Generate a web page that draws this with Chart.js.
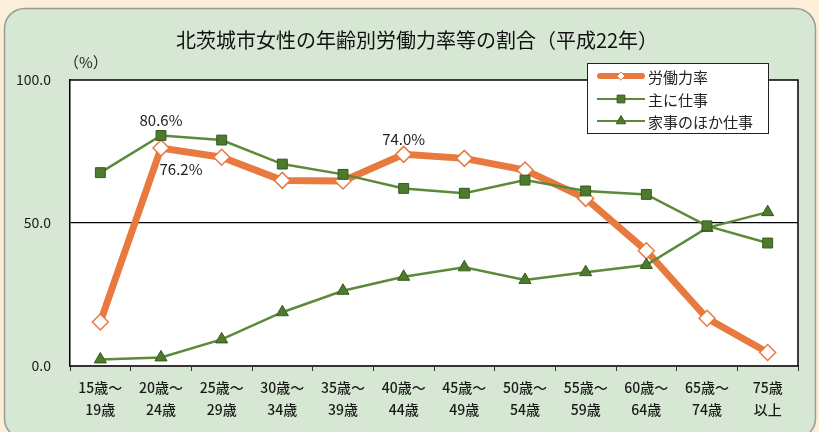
<!DOCTYPE html>
<html>
<head>
<meta charset="utf-8">
<script src="https://cdn.jsdelivr.net/npm/chart.js@4.4.1/dist/chart.umd.min.js"></script>
<style>
  html, body { margin: 0; padding: 0; background: #fcefd9; }
  #wrap { width: 819px; height: 432px; }
</style>
</head>
<body>
<div id="wrap"><canvas id="laborChart" width="819" height="432"></canvas></div>
<script>
const categories = [
    ['15歳～', '19歳'], ['20歳～', '24歳'], ['25歳～', '29歳'], ['30歳～', '34歳'],
    ['35歳～', '39歳'], ['40歳～', '44歳'], ['45歳～', '49歳'], ['50歳～', '54歳'],
    ['55歳～', '59歳'], ['60歳～', '64歳'], ['65歳～', '74歳'], ['75歳', '以上']
];
const laborRate = [15.4, 76.2, 73.0, 64.9, 64.7, 74.0, 72.6, 68.5, 58.6, 40.3, 16.7, 4.7];
const mainWork = [67.6, 80.6, 79.0, 70.6, 67.0, 62.1, 60.4, 65.0, 61.2, 60.0, 49.0, 43.0];
const houseworkWork = [2.3, 3.0, 9.3, 18.8, 26.3, 31.2, 34.5, 30.1, 32.8, 35.3, 48.3, 53.8];
const yTicks = [0, 50, 100];
const seriesNames = ['労働力率', '主に仕事', '家事のほか仕事'];
const titleText = '北茨城市女性の年齢別労働力率等の割合（平成22年）';

const ORANGE = '#e8793f';
const GREEN_LINE = '#5a8a3a';
const GREEN_FILL = '#4e7a2e';
const GREEN_EDGE = '#365a1f';
const FONT = '"Noto Sans CJK JP", "Noto Sans", sans-serif';

// 背景パネル（角丸の緑）とプロットエリアの白
const panelPlugin = {
    id: 'panel',
    beforeDraw(chart) {
        const ctx = chart.ctx;
        const a = chart.chartArea;
        ctx.save();
        ctx.fillStyle = '#fcefd9';
        ctx.fillRect(0, 0, chart.width, chart.height);
        ctx.beginPath();
        ctx.roundRect(4.5, 8.5, 811, 430, 20);
        ctx.fillStyle = '#d6e8d3';
        ctx.fill();
        ctx.strokeStyle = '#9a9a9a';
        ctx.lineWidth = 1.5;
        ctx.stroke();
        ctx.fillStyle = '#ffffff';
        ctx.fillRect(a.left, a.top, a.right - a.left, a.bottom - a.top);

        // タイトル
        ctx.fillStyle = '#111';
        ctx.font = '20px ' + FONT;
        ctx.textAlign = 'center';
        ctx.textBaseline = 'middle';
        ctx.fillText(titleText, 417, 40);
        ctx.restore();
    },
    afterDatasetsDraw(chart) {
        const ctx = chart.ctx;
        const a = chart.chartArea;
        ctx.save();
        // 枠線
        ctx.strokeStyle = '#000';
        ctx.lineWidth = 1.5;
        ctx.beginPath();
        ctx.moveTo(a.left, a.top);
        ctx.lineTo(a.right, a.top);
        ctx.lineTo(a.right, a.bottom);
        ctx.stroke();

        // データラベル
        const xs = chart.scales.x;
        const ys = chart.scales.y;
        ctx.font = '15px ' + FONT;
        ctx.fillStyle = '#222';
        ctx.textAlign = 'center';
        ctx.textBaseline = 'middle';
        ctx.fillText(mainWork[1].toFixed(1) + '%', xs.getPixelForValue(1), ys.getPixelForValue(mainWork[1]) - 15);
        ctx.fillText(laborRate[1].toFixed(1) + '%', xs.getPixelForValue(1) + 20, ys.getPixelForValue(laborRate[1]) + 21);
        ctx.fillText(laborRate[5].toFixed(1) + '%', xs.getPixelForValue(5), ys.getPixelForValue(laborRate[5]) - 15);

        // 単位
        ctx.textAlign = 'left';
        ctx.fillText('（%）', 64, 62);

        // 凡例
        const lx = 587, ly = 63, lw = 181, lh = 70;
        ctx.fillStyle = '#fff';
        ctx.fillRect(lx, ly, lw, lh);
        ctx.strokeStyle = '#222';
        ctx.lineWidth = 1;
        ctx.strokeRect(lx + 0.5, ly + 0.5, lw, lh);
        const rows = [76, 99, 121];
        chart.data.datasets.forEach((ds, i) => {
            const y = rows[i];
            ctx.strokeStyle = ds.borderColor;
            ctx.lineWidth = i === 0 ? 6 : 2;
            ctx.lineCap = i === 0 ? 'round' : 'butt';
            ctx.beginPath();
            ctx.moveTo(i === 0 ? 600 : 597, y);
            ctx.lineTo(i === 0 ? 642 : 645, y);
            ctx.stroke();
            ctx.fillStyle = ds.pointBackgroundColor;
            ctx.strokeStyle = ds.pointBorderColor;
            ctx.lineWidth = 1;
            Chart.helpers.drawPoint(ctx, { pointStyle: ds.pointStyle, radius: i === 0 ? 4 : 5.5, rotation: 0, borderWidth: 1 }, 621, y);
            ctx.fillStyle = '#222';
            ctx.font = '15px ' + FONT;
            ctx.textAlign = 'left';
            ctx.fillText(seriesNames[i], 648, y + 1);
        });
        ctx.restore();
    }
};

new Chart(document.getElementById('laborChart').getContext('2d'), {
    type: 'line',
    data: {
        labels: categories,
        datasets: [{
            label: seriesNames[0],
            data: laborRate,
            borderColor: ORANGE,
            borderWidth: 7,
            pointStyle: 'rectRot',
            pointRadius: 8,
            pointBackgroundColor: '#ffffff',
            pointBorderColor: ORANGE,
            pointBorderWidth: 1.5,
            tension: 0,
            order: 3
        }, {
            label: seriesNames[1],
            data: mainWork,
            borderColor: GREEN_LINE,
            borderWidth: 2.5,
            pointStyle: 'rect',
            pointRadius: 7,
            pointBackgroundColor: GREEN_FILL,
            pointBorderColor: GREEN_EDGE,
            pointBorderWidth: 1,
            tension: 0,
            order: 1
        }, {
            label: seriesNames[2],
            data: houseworkWork,
            borderColor: GREEN_LINE,
            borderWidth: 2.5,
            pointStyle: 'triangle',
            pointRadius: 7,
            pointBackgroundColor: GREEN_FILL,
            pointBorderColor: GREEN_EDGE,
            pointBorderWidth: 1,
            tension: 0,
            order: 2
        }]
    },
    options: {
        responsive: false,
        animation: false,
        layout: { padding: { left: 0, right: 21, top: 80, bottom: 0 } },
        plugins: {
            legend: { display: false },
            tooltip: { enabled: false },
            title: { display: false }
        },
        scales: {
            x: {
                offset: true,
                grid: {
                    offset: true,
                    drawOnChartArea: false,
                    drawTicks: true,
                    tickLength: 5,
                    color: '#333',
                    lineWidth: 1
                },
                border: { color: '#333', width: 2 },
                ticks: {
                    color: '#1a1a1a',
                    font: { family: FONT, size: 14, weight: 500, lineHeight: 1.55 },
                    padding: 6,
                    maxRotation: 0,
                    autoSkip: false
                },
                afterFit: (scale) => { scale.height = 66; }
            },
            y: {
                min: 0,
                max: 100,
                afterBuildTicks: (scale) => { scale.ticks = yTicks.map(v => ({ value: v })); },
                grid: {
                    drawTicks: false,
                    color: (c) => c.tick && c.tick.value === 50 ? '#000' : 'rgba(0,0,0,0)',
                    lineWidth: 1.2
                },
                border: { color: '#000', width: 1.5 },
                ticks: {
                    color: '#1a1a1a',
                    font: { family: FONT, size: 14 },
                    padding: 19,
                    callback: (v) => Number(v).toFixed(1)
                },
                afterFit: (scale) => { scale.width = 70; }
            }
        }
    },
    plugins: [panelPlugin]
});
</script>
</body>
</html>
